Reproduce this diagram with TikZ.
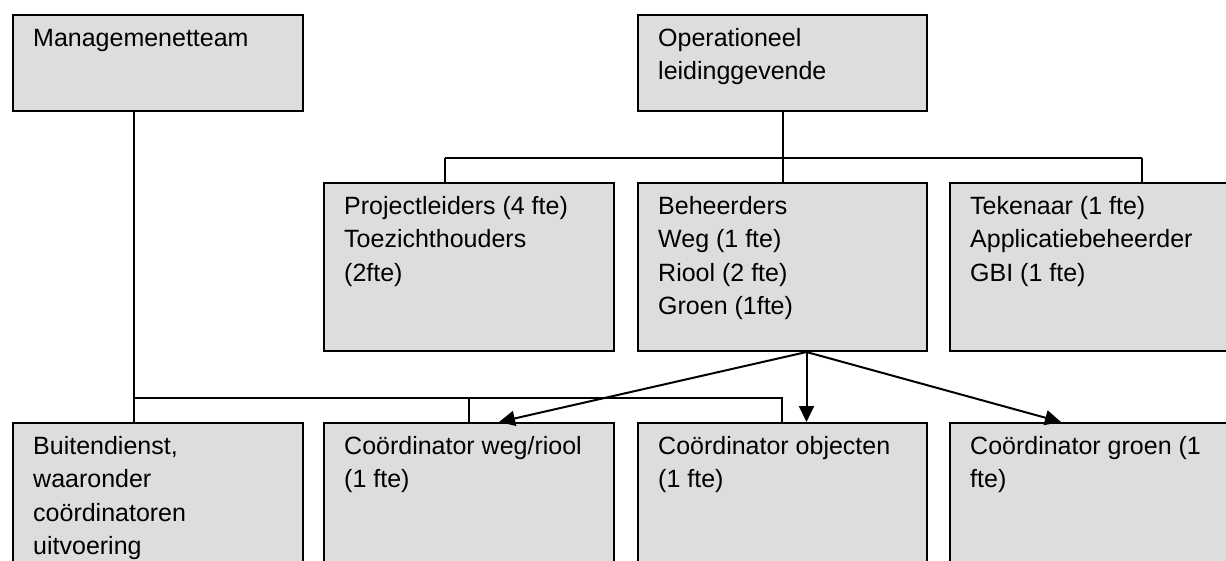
\documentclass[tikz,border=0pt]{standalone}
\usepackage{fontspec}
\setmainfont{Liberation Sans}
\usetikzlibrary{arrows.meta}
\definecolor{boxgray}{HTML}{DDDDDD}
\tikzset{
 box/.style={draw=black, fill=boxgray, line width=2pt, anchor=north west, inner sep=0pt},
 lbl/.style={anchor=north west, inner sep=0pt, align=left, font=\fontsize{25}{33.4}\selectfont},
 conn/.style={line width=2pt},
 arr/.style={line width=2pt, -{Triangle[length=16pt,width=15pt]}},
}
\begin{document}
\begin{tikzpicture}[x=1pt,y=-1pt]
\useasboundingbox (0,0) rectangle (1226,560);
\clip (0,0) rectangle (1226,560);
% boxes
\node[box, minimum width=290pt, minimum height=96pt] (mt) at (12,14) {};
\node[box, minimum width=289pt, minimum height=96pt] (op) at (637,14) {};
\node[box, minimum width=290pt, minimum height=168pt] (pl) at (323,182) {};
\node[box, minimum width=289pt, minimum height=168pt] (be) at (637,182) {};
\node[box, minimum width=300pt, minimum height=168pt] (tk) at (949,182) {};
\node[box, minimum width=290pt, minimum height=160pt] (bu) at (12,422) {};
\node[box, minimum width=290pt, minimum height=160pt] (cw) at (323,422) {};
\node[box, minimum width=289pt, minimum height=160pt] (co) at (637,422) {};
\node[box, minimum width=300pt, minimum height=160pt] (cg) at (949,422) {};
% labels (first baseline 33pt below the box top)
\node[lbl] (tmt) at ([shift={(21,9)}]mt.north west) {\strut Managemenetteam};
\node[lbl] (top) at ([shift={(21,9)}]op.north west) {\strut Operationeel\\leidinggevende};
\node[lbl] (tpl) at ([shift={(21,9)}]pl.north west) {\strut Projectleiders (4 fte)\\Toezichthouders\\(2fte)};
\node[lbl] (tbe) at ([shift={(21,9)}]be.north west) {\strut Beheerders\\Weg (1 fte)\\Riool (2 fte)\\Groen (1fte)};
\node[lbl] (ttk) at ([shift={(21,9)}]tk.north west) {\strut Tekenaar (1 fte)\\Applicatiebeheerder\\GBI (1 fte)};
\node[lbl] (tbu) at ([shift={(21,9)}]bu.north west) {\strut Buitendienst,\\waaronder\\coördinatoren\\uitvoering};
\node[lbl] (tcw) at ([shift={(21,9)}]cw.north west) {\strut Coördinator weg/riool\\(1 fte)};
\node[lbl] (tco) at ([shift={(21,9)}]co.north west) {\strut Coördinator objecten\\(1 fte)};
\node[lbl] (tcg) at ([shift={(21,9)}]cg.north west) {\strut Coördinator groen (1\\fte)};
% top connectors
\coordinate (tl) at (445,158);
\coordinate (tr) at (1142,158);
\draw[conn] (op.south) -- (be.north);
\draw[conn] (tl) -- (tr);
\draw[conn] (tl) -- (tl |- pl.north);
\draw[conn] (tr) -- (tr |- tk.north);
% bottom connectors
\coordinate (ml) at ([xshift=-24pt]mt.south);
\coordinate (jl) at (133,398);
\coordinate (jr) at (782,398);
\draw[conn] (ml) -- (ml |- bu.north);
\draw[conn] (jl) -- (jr) -- (jr |- co.north);
\draw[conn] (cw.north |- jl) -- (cw.north);
% arrows
\coordinate (as) at ([xshift=24pt]be.south);
\draw[arr] (as) -- ([xshift=30pt]cw.north);
\draw[arr] (as) -- (as |- co.north);
\draw[arr] (as) -- ([xshift=112pt]cg.north west);
\end{tikzpicture}
\end{document}
